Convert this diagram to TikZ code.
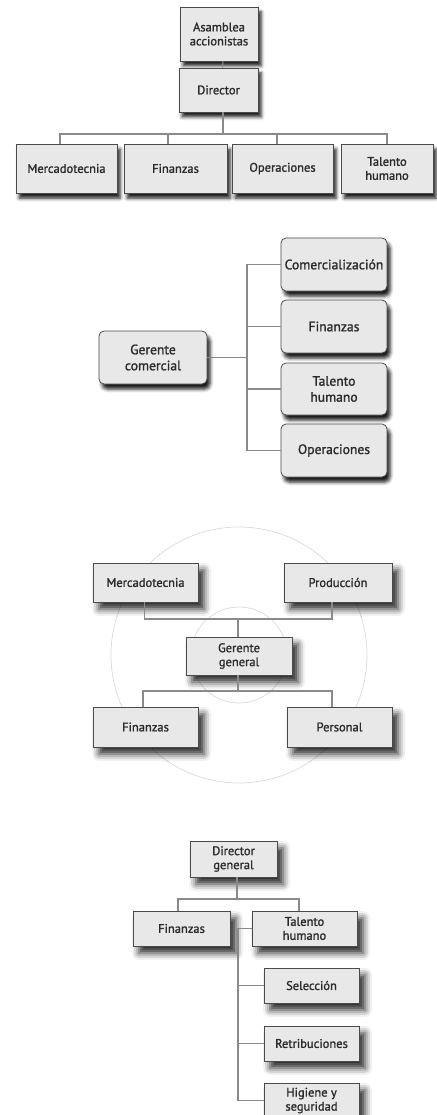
\documentclass[tikz,border=0pt]{standalone}
\usepackage{fontspec}
\setmainfont{PT Sans}[BoldFont={PT Sans}, BoldFeatures={FakeBold=1.3}]
\usetikzlibrary{shadows.blur}

\definecolor{boxfill}{HTML}{E8E8E8}
\definecolor{boxline}{HTML}{4A4A4A}
\definecolor{wire}{HTML}{8A8A8A}
\definecolor{ring}{HTML}{DADADA}
\definecolor{ink}{HTML}{2A2A2A}

\tikzset{
  unit/.style={draw=boxline, line width=0.8pt, fill=boxfill, text=ink,
    inner sep=0pt, align=center,
    font=\fontsize{12.5}{14}\selectfont\bfseries},
  darkshade/.style={blur shadow={shadow xshift=3pt, shadow yshift=-5pt,
    shadow blur radius=3.5pt, shadow opacity=90}},
  softshade/.style={blur shadow={shadow xshift=6pt, shadow yshift=-7pt,
    shadow blur radius=7pt, shadow opacity=85}},
  roundunit/.style={unit, rounded corners=5pt, darkshade,
    font=\fontsize{13.6}{16}\selectfont\bfseries},
  conn/.style={draw=wire, line width=1.1pt},
  halo/.style={draw=ring, line width=0.7pt},
  sz/.style 2 args={minimum width=#1pt, minimum height=#2pt},
}

\begin{document}
\begin{tikzpicture}[x=1pt, y=-1pt]
\useasboundingbox (0,0) rectangle (436,1115);

% ---------- linear chart ----------
\node[unit, darkshade, sz={78}{54}] (asam) at (219,34) {Asamblea\\accionistas};
\node[unit, darkshade, sz={79}{44}] (dir) at (218.5,90) {Director};
\node[unit, darkshade, sz={101}{49}] (mer) at (66.5,168.5) {Mercadotecnia};
\node[unit, darkshade, sz={103}{49}] (fin) at (175.5,168.5) {Finanzas};
\node[unit, darkshade, sz={101}{49}] (ope) at (282.5,168.5) {Operaciones};
\node[unit, darkshade, sz={92}{49}] (tal) at (387,168.5) {Talento\\humano};
\coordinate (bus1) at (223,134);

\draw[conn] ([xshift=4pt]asam.south) -- ([xshift=4pt]dir.north);
\draw[conn] ([xshift=4.5pt]dir.south) -- (bus1);
\draw[conn] ([xshift=-6.5pt]mer.north) |- (tal.north |- bus1) -- (tal.north);
\draw[conn] ([xshift=-7.5pt]fin.north) -- ([xshift=-7.5pt]fin.north |- bus1);
\draw[conn] ([xshift=-5.5pt]ope.north) -- ([xshift=-5.5pt]ope.north |- bus1);

% ---------- horizontal chart ----------
\node[roundunit, sz={108}{53}] (gc) at (153,357.5) {Gerente\\comercial};
\node[roundunit, sz={106}{53}] (com) at (334,264.5) {Comercialización};
\node[roundunit, sz={106}{53}] (fin2) at (334,326.5) {Finanzas};
\node[roundunit, sz={106}{52}] (tal2) at (334,389) {Talento\\humano};
\node[roundunit, sz={106}{53}] (ope2) at (334,450.5) {Operaciones};
\coordinate (trunk2) at (247,357.5);

\draw[conn] (gc.east) -- (trunk2);
\draw[conn] (com.west) -| (trunk2 |- ope2.west) -- (ope2.west);
\draw[conn] (fin2.west) -- (fin2.west -| trunk2);
\draw[conn] (tal2.west) -- (tal2.west -| trunk2);

% ---------- circular chart ----------
\coordinate (hub) at (239,655);
\draw[halo] (hub) circle[radius=128pt];
\draw[halo] (hub) circle[radius=48pt];
\coordinate (bus3a) at (238,619);
\coordinate (bus3b) at (238,691);

\node[unit, softshade, sz={105}{39}] (merc) at (145.5,582.5) {Mercadotecnia};
\node[unit, softshade, sz={108}{39}] (prod) at (338,582.5) {Producción};
\node[unit, softshade, sz={106}{38}] (gg) at (239,656) {Gerente\\general};
\node[unit, softshade, sz={105}{40}] (fin3) at (145.5,727) {Finanzas};
\node[unit, softshade, sz={105}{40}] (pers) at (339.5,727) {Personal};

\draw[conn] ([xshift=-1pt]merc.south) |- ([xshift=-6pt]prod.south |- bus3a) -- ([xshift=-6pt]prod.south);
\draw[conn] (bus3a) -- ([xshift=-1pt]gg.north);
\draw[conn] ([xshift=-1pt]gg.south) -- (bus3b);
\draw[conn] ([xshift=-2.5pt]fin3.north) |- ([xshift=-7.5pt]pers.north |- bus3b) -- ([xshift=-7.5pt]pers.north);

% ---------- vertical chart ----------
\node[unit, softshade, sz={87}{36}] (dg) at (233.5,859) {Director\\general};
\node[unit, softshade, sz={97}{35}] (fin4) at (181.5,928.5) {Finanzas};
\node[unit, softshade, sz={105}{35}] (th) at (304.5,928.5) {Talento\\humano};
\node[unit, softshade, sz={95}{35}] (sel) at (311.5,985.5) {Selección};
\node[unit, softshade, sz={95}{35}] (ret) at (311.5,1043.5) {Retribuciones};
\node[unit, softshade, sz={95}{35}] (hig) at (311.5,1100.5) {Higiene y\\seguridad};
\coordinate (bus4) at (237,899);
\coordinate (trunk4) at (238,928.5);

\draw[conn] ([xshift=3.5pt]dg.south) -- (bus4);
\draw[conn] ([xshift=-3.5pt]fin4.north) |- ([xshift=-5.5pt]th.north |- bus4) -- ([xshift=-5.5pt]th.north);
\draw[conn] (th.west) -- (trunk4) |- (hig.west);
\draw[conn] (sel.west) -- (sel.west -| trunk4);
\draw[conn] (ret.west) -- (ret.west -| trunk4);
\end{tikzpicture}
\end{document}
